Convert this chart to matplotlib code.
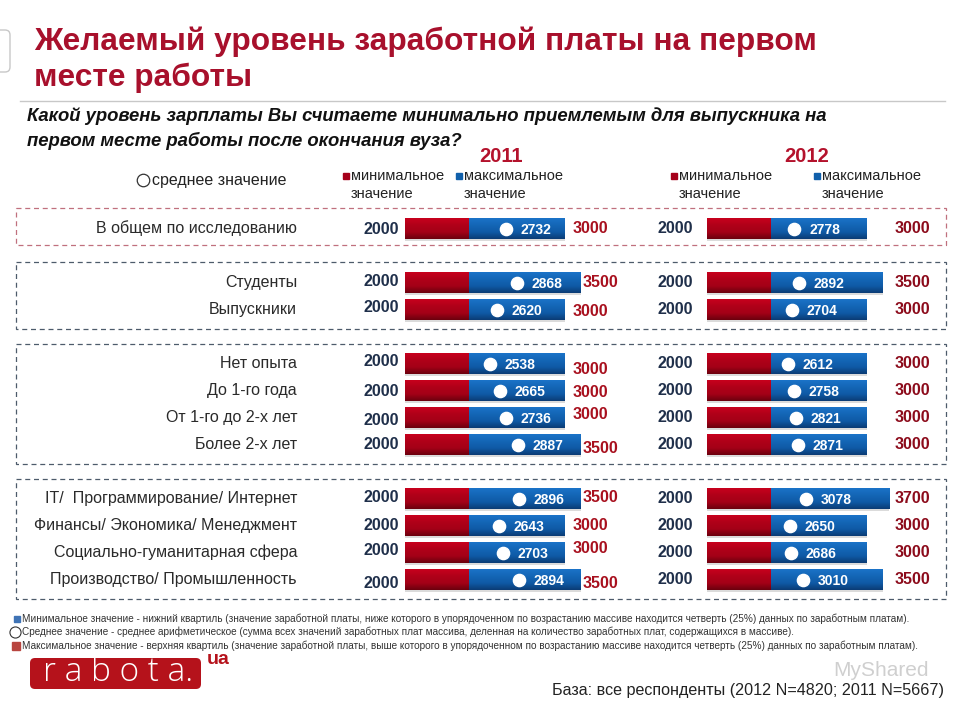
import numpy as np
import matplotlib
matplotlib.use("Agg")
import matplotlib.pyplot as plt
from matplotlib import font_manager
from matplotlib.patches import Rectangle, FancyBboxPatch
from matplotlib.colors import LinearSegmentedColormap
from matplotlib.transforms import blended_transform_factory

# ---------------- data ----------------
categories = [
    "В общем по исследованию",
    "Студенты", "Выпускники",
    "Нет опыта", "До 1-го года", "От 1-го до 2-х лет", "Более 2-х лет",
    "IT/  Программирование/ Интернет", "Финансы/ Экономика/ Менеджмент",
    "Социально-гуманитарная сфера", "Производство/ Промышленность",
]
groups = [0, 1, 1, 2, 2, 2, 2, 3, 3, 3, 3]

min_2011 = [2000, 2000, 2000, 2000, 2000, 2000, 2000, 2000, 2000, 2000, 2000]
max_2011 = [3000, 3500, 3000, 3000, 3000, 3000, 3500, 3500, 3000, 3000, 3500]
mean_2011 = [2732, 2868, 2620, 2538, 2665, 2736, 2887, 2896, 2643, 2703, 2894]

min_2012 = [2000, 2000, 2000, 2000, 2000, 2000, 2000, 2000, 2000, 2000, 2000]
max_2012 = [3000, 3500, 3000, 3000, 3000, 3000, 3000, 3700, 3000, 3000, 3500]
mean_2012 = [2778, 2892, 2704, 2612, 2758, 2821, 2871, 3078, 2650, 2686, 3010]

years = ["2011", "2012"]

# ---------------- fonts ----------------
names = {f.name for f in font_manager.fontManager.ttflist}
SANS = "Liberation Sans" if "Liberation Sans" in names else "DejaVu Sans"
NARROW = "Liberation Sans Narrow" if "Liberation Sans Narrow" in names else SANS
plt.rcParams["font.family"] = [SANS, "DejaVu Sans"]

W, H = 960, 720
fig = plt.figure(figsize=(9.6, 7.2), dpi=100)
fig.patch.set_facecolor("white")

def fx(x):
    return x / W

def fy(y):
    return 1 - y / H

# decoration layer in pixel space
deco = fig.add_axes([0, 0, 1, 1], zorder=0)
deco.set_xlim(0, W)
deco.set_ylim(H, 0)
deco.axis("off")

# ---------------- header ----------------
TITLE_RED = "#a8102c"
deco.add_patch(FancyBboxPatch((-8, 30), 18, 42, boxstyle="round,pad=0,rounding_size=5",
                              fc="white", ec="#c8c8c8", lw=1))
fig.text(fx(34), fy(42), "Желаемый уровень заработной платы на первом",
         fontsize=22.8, fontweight="bold", color=TITLE_RED, va="center", ha="left")
fig.text(fx(34), fy(78), "месте работы",
         fontsize=22.8, fontweight="bold", color=TITLE_RED, va="center", ha="left")
deco.plot([20, 945], [101, 101], color="#c8c8c8", lw=1)
fig.text(fx(27), fy(116),
         "Какой уровень зарплаты Вы считаете минимально приемлемым для выпускника на",
         fontsize=13.35, fontweight="bold", fontstyle="italic", color="#111111",
         va="center", ha="left")
fig.text(fx(27), fy(141), "первом месте работы после окончания вуза?",
         fontsize=13.35, fontweight="bold", fontstyle="italic", color="#111111",
         va="center", ha="left")

# year headings
YEAR_RED = "#b4122c"
for yr, xc in zip(years, [501, 807]):
    fig.text(fx(xc), fy(157), yr, fontsize=14.5, fontweight="bold",
             color=YEAR_RED, ha="center", va="center")

# legend
deco.plot([143], [180], marker="o", ms=9, mfc="white", mec="#333333", mew=0.9)
fig.text(fx(152), fy(180), "среднее значение", fontsize=11.5, color="#222222",
         va="center", ha="left")
LEG_RED, LEG_BLUE = "#a5001a", "#1160ab"
for xs, col, word in [(346, LEG_RED, "минимальное"), (459, LEG_BLUE, "максимальное"),
                      (674, LEG_RED, "минимальное"), (817, LEG_BLUE, "максимальное")]:
    deco.plot([xs], [176], marker="s", ms=5, color=col)
    fig.text(fx(xs + 5), fy(176), word, fontsize=10.5, color="#222222",
             va="center", ha="left")
    fig.text(fx(xs + 5), fy(194), "значение", fontsize=10.5, color="#222222",
             va="center", ha="left")

# group boxes
BOX_GREY = "#4d5b6b"
for (y0, y1, col) in [(208, 245, "#c0707e"), (262, 329, BOX_GREY),
                      (344, 464, BOX_GREY), (479, 599, BOX_GREY)]:
    deco.add_patch(Rectangle((16, y0), 930, y1 - y0, fill=False, ec=col,
                             lw=0.9, ls=(0, (4, 3))))

# ---------------- bars ----------------
rows = [i + g for i, g in enumerate(groups)]
ROW0, STEP = 228.5, 27.0          # pixel of row 0, pixel per row
PTOP, PBOT = 195, 610
PX_PER_UNIT = 0.032               # 32 px per 1000

red_cmap = LinearSegmentedColormap.from_list("r", ["#c8001d", "#b00019", "#a40017", "#6c000e"])
blue_cmap = LinearSegmentedColormap.from_list("b", ["#1b73c8", "#1466b6", "#0f5aa6", "#0b3c75"])
grad = np.linspace(0, 1, 64).reshape(-1, 1)

def gradient_fill(ax, rects, cmap):
    for r in rects:
        x, y, w, h = r.get_x(), r.get_y(), r.get_width(), r.get_height()
        im = ax.imshow(grad, extent=[x, x + w, y, y + h], origin="lower",
                       aspect="auto", cmap=cmap, zorder=3, interpolation="bilinear")
        im.set_clip_path(r)

panels = [
    dict(x0=405, x1=640, mins=min_2011, maxs=max_2011, means=mean_2011,
         mk_base=2274, mk_k=2.5, min_gap=6, max_col=None, max_color="#a8101e",
         max_nudge=[0, 0, 1.5, 5.5, 2, -3, 4, -1, 0, -4, 4],
         min_nudge=[1, -1.5, -2.5, -2, 1, 3, 0, -1, 0, -2, 4]),
    dict(x0=707, x1=930, mins=min_2012, maxs=max_2012, means=mean_2012,
         mk_base=2171, mk_k=1.207, min_gap=14, max_col=1.0, max_color="#8c0b1b",
         max_nudge=[0] * 11, min_nudge=[0] * 11),
]

BAR_H = 21 / STEP
for p in panels:
    ax = fig.add_axes([fx(p["x0"]), 1 - PBOT / H, (p["x1"] - p["x0"]) / W, (PBOT - PTOP) / H],
                      zorder=2)
    ax.patch.set_alpha(0)
    ax.axis("off")
    xmax = (p["x1"] - p["x0"]) / PX_PER_UNIT
    ylo, yhi = (PBOT - ROW0) / STEP, (PTOP - ROW0) / STEP

    mins = np.array(p["mins"], float)
    maxs = np.array(p["maxs"], float)
    means = np.array(p["means"], float)
    y = np.array(rows, float)

    # soft shadow
    ax.barh(y + 2.0 / STEP, mins + maxs, left=1.0, height=BAR_H,
            color="#9a9a9a", alpha=0.35, zorder=1, lw=0)
    red = ax.barh(y, mins, height=BAR_H, color="#a90019", lw=0, zorder=2)
    blue = ax.barh(y, maxs, left=mins, height=BAR_H, color="#1262b0", lw=0, zorder=2)
    gradient_fill(ax, red, red_cmap)
    gradient_fill(ax, blue, blue_cmap)

    # mean markers + labels
    mk_x = mins + p["mk_k"] * (means - p["mk_base"])
    ax.plot(mk_x, y, "o", ms=8.8, mfc="white", mec="white", zorder=5, clip_on=False)
    for xm, yy, m in zip(mk_x, y, means):
        ax.annotate(f"{int(m)}", (xm, yy), xytext=(10.5, -1.0), textcoords="offset points",
                    ha="left", va="center", color="white", fontsize=10,
                    fontweight="bold", family=[NARROW, "DejaVu Sans"], zorder=6)

    # min labels
    for yy, mn, nd in zip(y, mins, p["min_nudge"]):
        ax.annotate(f"{int(mn)}", (0, yy), xytext=(-p["min_gap"] * 0.72, -nd * 0.72),
                    textcoords="offset points", ha="right", va="center",
                    color="#1f2f4a", fontsize=11.5, fontweight="bold", zorder=6)

    # max labels
    for yy, mn, mx, nd in zip(y, mins, maxs, p["max_nudge"]):
        if p["max_col"] is None:
            gap = 8 if mx <= 3000 else 2
            ax.annotate(f"{int(mx)}", (mn + mx, yy), xytext=(gap * 0.72, -nd * 0.72),
                        textcoords="offset points", ha="left", va="center",
                        color=p["max_color"], fontsize=11.5, fontweight="bold", zorder=6)
        else:
            tr = blended_transform_factory(ax.transAxes, ax.transData)
            ax.text(p["max_col"], yy, f"{int(mx)}", transform=tr, ha="right", va="center",
                    color=p["max_color"], fontsize=11.5, fontweight="bold", zorder=6)

    ax.set_xlim(0, xmax)
    ax.set_ylim(ylo, yhi)

    if p is panels[0]:
        tr = blended_transform_factory(fig.transFigure, ax.transData)
        for yy, cat in zip(y, categories):
            ax.text(fx(297), yy, cat, transform=tr, ha="right", va="center",
                    fontsize=11.5, color="#2a2a2a")

# ---------------- footer ----------------
notes = [
    "Минимальное значение - нижний квартиль (значение заработной платы, ниже которого в упорядоченном по возрастанию массиве находится четверть (25%) данных по заработным платам).",
    "Среднее значение - среднее арифметическое (сумма всех значений заработных плат массива, деленная на количество заработных плат, содержащихся в массиве).",
    "Максимальное значение - верхняя квартиль (значение заработной платы, выше которого в упорядоченном по возрастанию массиве находится четверть (25%) данных по заработным платам).",
]
for yy, txt in zip([619, 632, 646], notes):
    fig.text(fx(22), fy(yy), txt, fontsize=7.2, color="#333333", va="center", ha="left",
             family=[NARROW, "DejaVu Sans"])
deco.plot([17], [619], marker="s", ms=5, color="#3f73b5")
deco.plot([15], [632], marker="o", ms=8, mfc="white", mec="#333333", mew=0.8)
deco.plot([16], [646], marker="s", ms=6, color="#b8453f")

deco.add_patch(FancyBboxPatch((30, 658), 171, 31, boxstyle="round,pad=0,rounding_size=5",
                              fc="#b5121b", ec="none"))
fig.text(fx(118), fy(672), "r a b o t a.", fontsize=24, color="white", ha="center",
         va="center", fontweight="light", family=["Open Sans", SANS])
fig.text(fx(207), fy(660), "ua", fontsize=14, color="#b5121b", fontweight="bold",
         ha="left", va="center")
fig.text(fx(833), fy(670), "MyShared", fontsize=15, color="#a0a0a0", alpha=0.5,
         ha="left", va="center")
fig.text(fx(944), fy(690), "База: все респонденты (2012 N=4820; 2011 N=5667)",
         fontsize=11.6, color="#222222", ha="right", va="center",
         family=[NARROW, "DejaVu Sans"])

fig.savefig("out.png", dpi=100, facecolor="white")
